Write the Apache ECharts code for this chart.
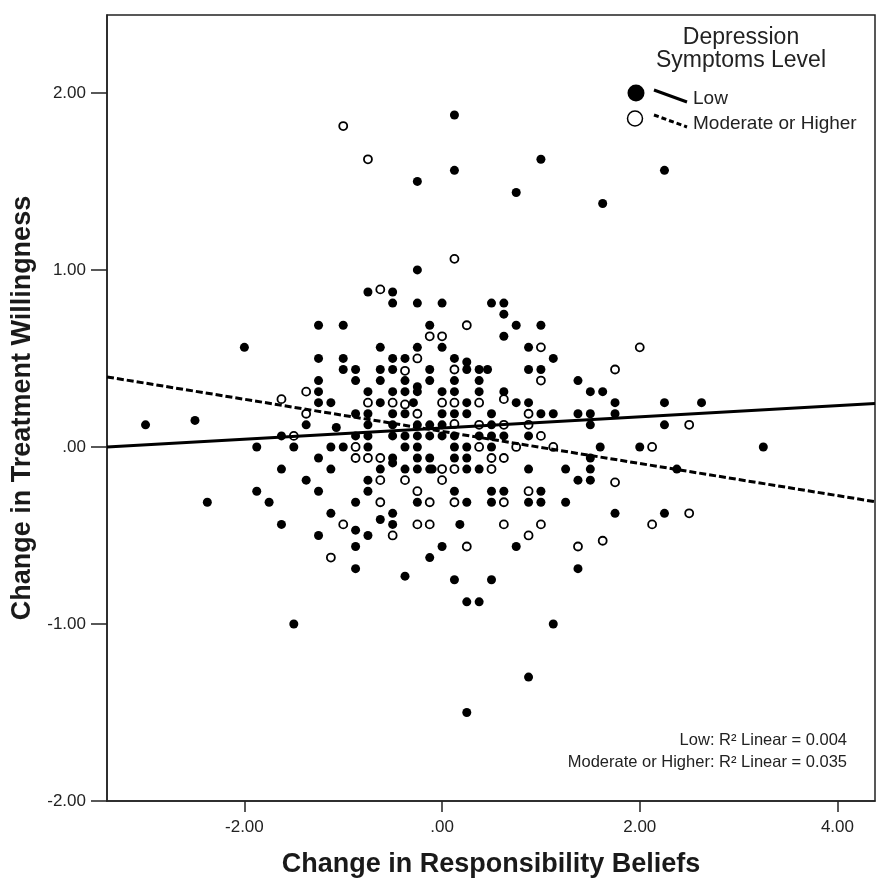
<!DOCTYPE html>
<html>
<head>
<meta charset="utf-8">
<title>Change in Treatment Willingness</title>
<script src="https://cdn.jsdelivr.net/npm/echarts@6/dist/echarts.min.js"></script>
<style>
  html, body { margin: 0; padding: 0; background: #fff; }
  #main { width: 882px; height: 888px; }
</style>
</head>
<body>
<div id="main"></div>
<script type="text/javascript">
// axis ranges and tick values
var xRange = [-3.39, 4.38];
var yRange = [-2.0, 2.44];
var xTicks = [-2, 0, 2, 4];
var yTicks = [-2, -1, 0, 1, 2];

// fit lines: [intercept, slope]
var lowFit = [0.107, 0.0316];
var modFit = [0.088, -0.0907];
var lowR2 = '0.004';
var modR2 = '0.035';

// Low depression symptoms (filled dots)
var lowPoints = [
  [0.125, 1.875], [0.125, 1.5625], [-0.25, 1.5], [1.0, 1.625], [0.75, 1.4375],
  [1.625, 1.375], [2.25, 1.5625], [-0.25, 1.0],
  [-0.75, 0.875], [-0.5, 0.875], [-0.5, 0.8125], [-0.25, 0.8125], [0, 0.8125],
  [0.5, 0.8125], [0.625, 0.8125], [0.625, 0.75], [-1.25, 0.6875], [-1.0, 0.6875],
  [-0.125, 0.6875], [0.75, 0.6875], [1.0, 0.6875], [0.625, 0.625], [-2.0, 0.5625],
  [-0.625, 0.5625], [-0.25, 0.5625], [0, 0.5625], [0.875, 0.5625],
  [-1.25, 0.5], [-1.0, 0.5], [-0.5, 0.5], [-0.375, 0.5], [0.125, 0.5], [0.25, 0.48], [1.125, 0.5],
  [-1.0, 0.4375], [-0.875, 0.4375], [-0.625, 0.4375], [-0.5, 0.4375], [-0.125, 0.4375],
  [0.25, 0.4375], [0.375, 0.4375], [0.46, 0.4375], [0.875, 0.4375], [1.0, 0.4375],
  [-1.25, 0.375], [-0.875, 0.375], [-0.625, 0.375], [-0.375, 0.375], [-0.125, 0.375],
  [0.125, 0.375], [0.375, 0.375], [1.375, 0.375],
  [-1.25, 0.3125], [-0.75, 0.3125], [-0.5, 0.3125], [-0.375, 0.3125], [-0.25, 0.34],
  [-0.25, 0.3125], [0, 0.3125], [0.125, 0.3125], [0.375, 0.3125], [0.625, 0.3125],
  [1.5, 0.3125], [1.625, 0.3125],
  [-1.25, 0.25], [-1.125, 0.25], [-0.625, 0.25], [-0.29, 0.25], [0.25, 0.25], [0.75, 0.25],
  [0.875, 0.25], [1.75, 0.25], [2.25, 0.25], [2.625, 0.25],
  [-0.875, 0.1875], [-0.75, 0.1875], [-0.5, 0.1875], [-0.375, 0.1875], [0, 0.1875],
  [0.125, 0.1875], [0.25, 0.1875], [0.5, 0.1875], [1.0, 0.1875], [1.125, 0.1875],
  [1.375, 0.1875], [1.5, 0.1875], [1.75, 0.1875],
  [-3.0, 0.125], [-2.5, 0.15], [-1.375, 0.125], [-0.75, 0.125], [-0.5, 0.125], [-0.25, 0.125],
  [-0.125, 0.125], [0, 0.125], [0.5, 0.125], [1.5, 0.125], [2.25, 0.125], [-1.07, 0.11],
  [-1.625, 0.0625], [-0.875, 0.0625], [-0.5, 0.0625], [-0.25, 0.0625], [-0.125, 0.0625],
  [0, 0.0625], [0.125, 0.0625], [0.375, 0.0625], [0.5, 0.0625], [0.625, 0.0625],
  [0.875, 0.0625], [-0.75, 0.0625], [-0.375, 0.0625],
  [-1.875, 0], [-1.5, 0], [-1.125, 0], [-1.0, 0], [-0.75, 0], [-0.375, 0], [-0.25, 0],
  [0.125, 0], [0.25, 0], [0.5, 0], [1.6, 0], [2.0, 0], [3.25, 0],
  [-1.25, -0.0625], [-0.5, -0.0625], [-0.5, -0.09], [-0.25, -0.0625], [-0.125, -0.0625],
  [0.125, -0.0625], [0.25, -0.0625], [1.5, -0.0625],
  [-1.625, -0.125], [-1.125, -0.125], [-0.625, -0.125], [-0.375, -0.125], [-0.25, -0.125],
  [-0.125, -0.125], [-0.1, -0.125], [0.25, -0.125], [0.375, -0.125], [0.875, -0.125],
  [1.25, -0.125], [1.5, -0.125], [2.375, -0.125],
  [-1.375, -0.1875], [-0.75, -0.1875], [1.375, -0.1875], [1.5, -0.1875],
  [-1.875, -0.25], [-1.25, -0.25], [-0.75, -0.25], [0.125, -0.25], [0.5, -0.25],
  [0.625, -0.25], [1.0, -0.25],
  [-2.375, -0.3125], [-1.75, -0.3125], [-0.875, -0.3125], [-0.25, -0.3125], [0.25, -0.3125],
  [0.5, -0.3125], [0.875, -0.3125], [1.0, -0.3125], [1.25, -0.3125],
  [-1.125, -0.375], [-0.5, -0.375], [1.75, -0.375], [2.25, -0.375],
  [-1.625, -0.4375], [-0.625, -0.41], [-0.5, -0.4375], [0.18, -0.4375],
  [-0.875, -0.47], [-1.25, -0.5], [-0.75, -0.5],
  [-0.875, -0.5625], [0, -0.5625], [0.75, -0.5625], [-0.125, -0.625],
  [-0.875, -0.6875], [1.375, -0.6875], [-0.375, -0.73], [0.125, -0.75], [0.5, -0.75],
  [0.25, -0.875], [0.375, -0.875], [-1.5, -1.0], [1.125, -1.0], [0.875, -1.3], [0.25, -1.5]
];

// Moderate or higher depression symptoms (open dots)
var modPoints = [
  [-1.0, 1.8125], [-0.75, 1.625], [0.125, 1.0625], [-0.625, 0.89], [0.25, 0.6875],
  [-0.125, 0.625], [0, 0.625], [1.0, 0.5625], [2.0, 0.5625], [-0.25, 0.5],
  [-0.375, 0.43], [0.125, 0.4375], [1.75, 0.4375], [1.0, 0.375], [-1.375, 0.3125],
  [-1.625, 0.27], [-0.75, 0.25], [-0.5, 0.25], [-0.375, 0.24], [0, 0.25], [0.125, 0.25],
  [0.375, 0.25], [0.625, 0.27], [-1.375, 0.1875], [-0.25, 0.1875], [0.875, 0.1875],
  [0.125, 0.13], [0.375, 0.125], [0.625, 0.125], [0.875, 0.125], [2.5, 0.125],
  [-1.5, 0.0625], [1.0, 0.0625], [-0.875, 0], [0.375, 0], [0.75, 0], [1.125, 0], [2.125, 0],
  [-0.875, -0.0625], [-0.75, -0.0625], [-0.625, -0.0625], [0.5, -0.0625], [0.625, -0.0625],
  [0, -0.125], [0.125, -0.125], [0.5, -0.125], [-0.625, -0.1875], [-0.375, -0.1875],
  [0, -0.1875], [1.75, -0.2], [-0.25, -0.25], [0.875, -0.25], [-0.625, -0.3125],
  [-0.125, -0.3125], [0.125, -0.3125], [0.625, -0.3125], [2.5, -0.375], [-1.0, -0.4375],
  [-0.25, -0.4375], [-0.125, -0.4375], [0.625, -0.4375], [1.0, -0.4375], [2.125, -0.4375],
  [-0.5, -0.5], [0.875, -0.5], [0.25, -0.5625], [1.375, -0.5625], [1.625, -0.53],
  [-1.125, -0.625]
];

function fitLine(fit) {
  return [
    [xRange[0], fit[0] + fit[1] * xRange[0]],
    [xRange[1], fit[0] + fit[1] * xRange[1]]
  ];
}

function fmt(v) {
  if (v === 0) return '.00';
  return v.toFixed(2);
}

var font = 'Arial, "Liberation Sans", Helvetica, sans-serif';
var myChart = echarts.init(document.getElementById('main'), null, { renderer: 'canvas' });

var option = {
  backgroundColor: '#fff',
  animation: false,
  textStyle: { fontFamily: font },
  grid: {
    left: 107, right: 7, top: 15, bottom: 87,
    show: true, borderColor: '#222', borderWidth: 1.5, backgroundColor: '#fff'
  },
  xAxis: {
    type: 'value',
    min: xRange[0], max: xRange[1],
    name: 'Change in Responsibility Beliefs',
    nameLocation: 'middle', nameGap: 50,
    nameTextStyle: { fontSize: 27, fontWeight: 'bold', color: '#1a1a1a', fontFamily: font },
    splitLine: { show: false },
    axisLine: { show: true, onZero: false, lineStyle: { color: '#222', width: 1.5 } },
    axisTick: { show: true, customValues: xTicks, length: 11, lineStyle: { color: '#222', width: 1.5 } },
    axisLabel: { customValues: xTicks, formatter: fmt, fontSize: 17, color: '#222', margin: 18 }
  },
  yAxis: {
    type: 'value',
    min: yRange[0], max: yRange[1],
    name: 'Change in Treatment Willingness',
    nameLocation: 'middle', nameGap: 69,
    nameTextStyle: { fontSize: 27, fontWeight: 'bold', color: '#1a1a1a', fontFamily: font },
    splitLine: { show: false },
    axisLine: { show: true, onZero: false, lineStyle: { color: '#222', width: 1.5 } },
    axisTick: { show: true, customValues: yTicks, length: 16, lineStyle: { color: '#222', width: 1.5 } },
    axisLabel: { customValues: yTicks, formatter: fmt, fontSize: 17, color: '#222', margin: 21 }
  },
  series: [
    {
      name: 'Low',
      type: 'scatter',
      data: lowPoints,
      symbol: 'circle',
      symbolSize: 9,
      itemStyle: { color: '#000', opacity: 1 },
      z: 2
    },
    {
      name: 'Moderate or Higher',
      type: 'scatter',
      data: modPoints,
      symbol: 'circle',
      symbolSize: 8,
      itemStyle: { color: '#fff', borderColor: '#000', borderWidth: 1.8, opacity: 1 },
      z: 3
    },
    {
      name: 'Low fit',
      type: 'line',
      data: fitLine(lowFit),
      showSymbol: false,
      lineStyle: { color: '#000', width: 3 },
      z: 4
    },
    {
      name: 'Moderate fit',
      type: 'line',
      data: fitLine(modFit),
      showSymbol: false,
      lineStyle: { color: '#000', width: 3, type: [7, 3] },
      z: 4
    }
  ],
  graphic: [
    { type: 'text', style: { text: 'Depression', x: 741, y: 38, fontSize: 23, fill: '#222', align: 'center', verticalAlign: 'middle', fontFamily: font } },
    { type: 'text', style: { text: 'Symptoms Level', x: 741, y: 61, fontSize: 23, fill: '#222', align: 'center', verticalAlign: 'middle', fontFamily: font } },
    { type: 'circle', shape: { cx: 636, cy: 93, r: 8.5 }, style: { fill: '#000' } },
    { type: 'line', shape: { x1: 654, y1: 90, x2: 687, y2: 102 }, style: { stroke: '#000', lineWidth: 3 } },
    { type: 'text', style: { text: 'Low', x: 693, y: 99, fontSize: 19, fill: '#222', verticalAlign: 'middle', fontFamily: font } },
    { type: 'circle', shape: { cx: 635, cy: 118.5, r: 7.5 }, style: { fill: '#fff', stroke: '#000', lineWidth: 1.5 } },
    { type: 'line', shape: { x1: 654, y1: 115, x2: 687, y2: 127 }, style: { stroke: '#000', lineWidth: 3, lineDash: [5, 3] } },
    { type: 'text', style: { text: 'Moderate or Higher', x: 693, y: 124, fontSize: 19, fill: '#222', verticalAlign: 'middle', fontFamily: font } },
    { type: 'text', style: { text: 'Low: R\u00b2 Linear = ' + lowR2, x: 847, y: 740, fontSize: 16.5, fill: '#222', align: 'right', verticalAlign: 'middle', fontFamily: font } },
    { type: 'text', style: { text: 'Moderate or Higher: R\u00b2 Linear = ' + modR2, x: 847, y: 762, fontSize: 16.5, fill: '#222', align: 'right', verticalAlign: 'middle', fontFamily: font } }
  ]
};

myChart.setOption(option);
</script>
</body>
</html>
